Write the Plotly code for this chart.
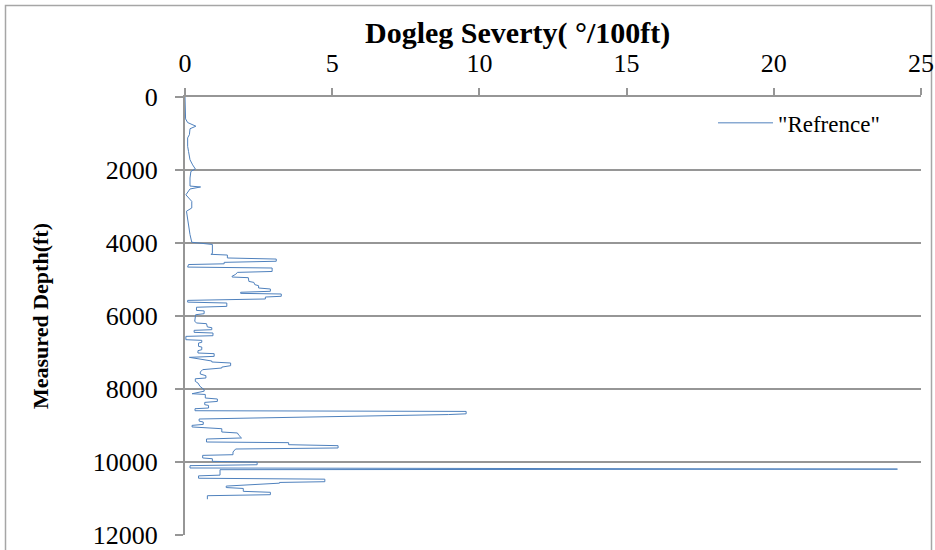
import plotly.graph_objects as go

# Survey stations: measured depth (ft) and dogleg severity (deg/100ft)
depth_ft = [
    0, 600, 700, 800, 870, 1030, 1120, 1350, 1490, 1720, 1860, 1970, 2040, 2220,
    2440, 2465, 2520, 2680, 2860, 3040, 3130, 3360, 3590, 3770, 3980, 4040, 4290,
    4310, 4330, 4410, 4440, 4500, 4530, 4570, 4590, 4660, 4685, 4780, 4805, 4860,
    4910, 4932, 4950, 5052, 5080, 5140, 5170, 5233, 5260, 5323, 5350, 5380, 5397,
    5460, 5480, 5534, 5572, 5620, 5644, 5736, 5760, 5847, 5860, 5937, 5965, 6148,
    6192, 6210, 6300, 6320, 6375, 6393, 6448, 6466, 6540, 6558, 6649, 6667, 6722,
    6740, 6832, 6850, 6923, 6950, 7014, 7032, 7106, 7133, 7233, 7260, 7288, 7361,
    7400, 7425, 7470, 7535, 7590, 7635, 7699, 7720, 7791, 7836, 7928, 8019, 8060,
    8129, 8150, 8247, 8274, 8340, 8367, 8430, 8450, 8521, 8540, 8595, 8614, 8680,
    8700, 8822, 8880, 8904, 8970, 8997, 9040, 9088, 9178, 9205, 9270, 9342, 9370,
    9452, 9470, 9526, 9553, 9616, 9644, 9700, 9726, 9800, 9818, 9890, 9910, 9982,
    10005, 10075, 10100, 10164, 10175, 10195, 10211, 10360, 10380, 10445, 10470,
    10540, 10560, 10580, 10660, 10700, 10725, 10804, 10830, 10896, 10923, 11020,
]
dls_deg_100ft = [
    0.00, 0.02, 0.09, 0.37, 0.17, 0.15, 0.09, 0.09, 0.12, 0.17, 0.26, 0.35, 0.20, 0.17,
    0.17, 0.53, 0.17, 0.03, 0.23, 0.23, 0.05, 0.09, 0.12, 0.17, 0.23, 0.93, 0.93,
    0.88, 1.44, 1.44, 3.10, 3.10, 1.33, 1.33, 0.12, 0.09, 2.96, 2.96, 1.78, 1.72,
    1.60, 1.60, 2.15, 2.17, 2.34, 2.37, 2.50, 2.50, 2.90, 2.90, 1.89, 1.89, 3.27,
    3.27, 2.73, 2.73, 0.09, 0.09, 1.42, 1.42, 0.39, 0.39, 0.65, 0.65, 0.36, 0.33,
    0.40, 0.73, 0.76, 0.91, 0.91, 0.31, 0.31, 0.95, 0.95, 0.03, 0.03, 0.57, 0.57,
    0.46, 0.46, 0.57, 0.57, 0.44, 0.44, 0.99, 0.99, 0.15, 0.91, 0.91, 1.55, 1.55,
    1.25, 1.25, 0.60, 0.52, 0.52, 0.71, 0.71, 0.35, 0.35, 0.44, 0.51, 0.65, 0.65,
    0.24, 0.69, 0.69, 1.10, 1.10, 0.67, 0.67, 0.80, 0.80, 0.34, 0.34, 9.55, 9.55,
    8.95, 0.48, 0.48, 0.62, 0.62, 0.24, 0.24, 1.25, 1.25, 1.78, 1.83, 1.92, 0.73,
    0.73, 3.52, 3.52, 5.20, 5.20, 1.72, 1.65, 1.63, 1.63, 0.60, 0.60, 0.93, 0.93,
    2.45, 2.45, 0.17, 0.17, 24.2, 24.2, 1.19, 1.19, 0.46, 0.46, 4.75,
    4.75, 3.21, 3.21, 1.40, 1.40, 1.98, 1.98, 2.90, 2.90, 0.76, 0.76,
]

x_ticks = [0, 5, 10, 15, 20, 25]
x_tick_text = ["0", "5", "10", "15", "20", "25"]
y_ticks = [0, 2000, 4000, 6000, 8000, 10000, 12000]
y_tick_text = ["0", "2000", "4000", "6000", "8000", "10000", "12000"]

GRID = "#969696"
SERIF = "Liberation Serif"

# plot-area geometry in pixels, used for the paper-space frame and title
L, R, T, B = 185, 14, 97, 15
PW, PH = 935 - L - R, 550 - T - B

fig = go.Figure()
fig.add_trace(go.Scatter(
    x=dls_deg_100ft, y=depth_ft, mode="lines", name='"Refrence"',
    line=dict(color="#4F81BD", width=1),
))

fig.update_layout(
    width=935, height=550,
    margin=dict(l=L, r=R, t=T, b=B, autoexpand=False),
    paper_bgcolor="white", plot_bgcolor="white",
    font=dict(family=SERIF, color="black"),
    showlegend=True,
    legend=dict(
        x=(885 - L) / PW, y=0.99, xanchor="right", yanchor="top",
        font=dict(family=SERIF, size=23, color="black"),
        bgcolor="rgba(0,0,0,0)", itemwidth=55,
    ),
    xaxis=dict(
        side="top", range=[0, 25], tickvals=x_ticks, ticktext=x_tick_text,
        ticks="outside", ticklen=7, tickwidth=2, tickcolor=GRID,
        showgrid=False, zeroline=False, automargin=False,
        showline=True, linecolor=GRID, linewidth=2,
        tickfont=dict(family=SERIF, size=26),
        ticklabelstandoff=6, ticklabeloverflow="allow",
    ),
    yaxis=dict(
        range=[12000, 0], tickvals=y_ticks, ticktext=y_tick_text,
        ticks="outside", ticklen=8, tickwidth=2, tickcolor=GRID,
        showgrid=True, gridcolor=GRID, gridwidth=2, zeroline=False,
        automargin=False,
        showline=True, linecolor=GRID, linewidth=2,
        tickfont=dict(family=SERIF, size=26),
        ticklabelstandoff=12, ticklabeloverflow="allow",
        title=dict(text="<b>Measured Depth(ft)</b>",
                   font=dict(family=SERIF, size=22), standoff=38),
    ),
    annotations=[dict(
        text="<b>Dogleg Severty( °/100ft)</b>", xref="paper", yref="paper",
        x=(517 - L) / PW, y=1.0 + (T - 33) / PH,
        xanchor="center", yanchor="middle", showarrow=False,
        font=dict(family=SERIF, size=30, color="black"),
    )],
    shapes=[dict(
        type="rect", xref="paper", yref="paper",
        x0=(5.5 - L) / PW, x1=(931.5 - L) / PW,
        y0=-0.06, y1=1.0 + (T - 5.5) / PH,
        line=dict(color="#a6a6a6", width=1.5), layer="below",
    )],
)

fig.write_html("out.html")
